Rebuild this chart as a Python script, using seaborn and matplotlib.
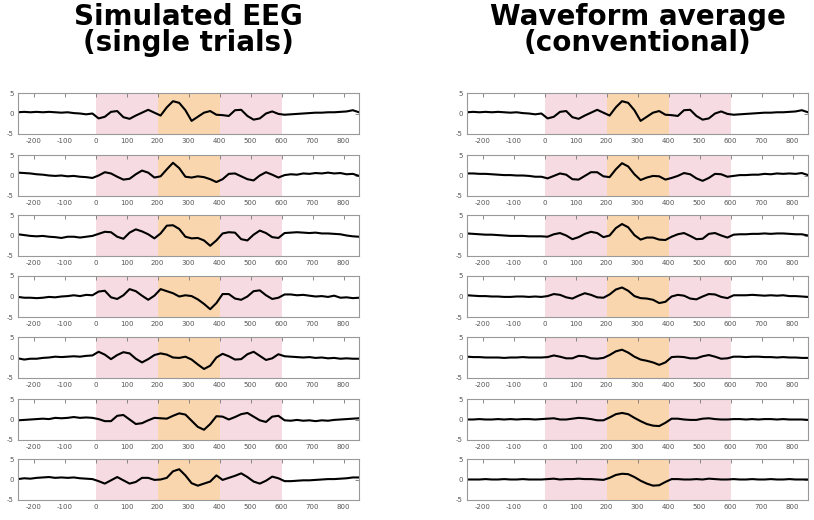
import numpy as np
import pandas as pd
import matplotlib
matplotlib.use("Agg")
import matplotlib.pyplot as plt
import seaborn as sns

# time grid in ms (every 20 ms)
TIME = list(range(-250, 851, 20))

# single trials (left column)
TRIAL_1 = [0.3, 0.4, 0.3, 0.4, 0.3, 0.4, 0.3, 0.2, 0.3, 0.1, 0.0, -0.2, 0.0,
           -1.2, -0.8, 0.4, 0.6, -0.9, -1.3, -0.5, 0.2, 0.9, 0.2,
           -0.5, 1.5, 3.0, 2.6, 0.8, -1.8, -0.8, 0.2, 0.6, -0.3,
           -0.4, -0.6, 0.8, 0.9, -0.6, -1.5, -1.2, 0.0, 0.5, -0.1,
           -0.3, -0.2, -0.1, 0.0, 0.1, 0.2, 0.2, 0.3, 0.3, 0.4, 0.5, 0.8, 0.3]
TRIAL_2 = [0.7, 0.6, 0.5, 0.3, 0.2, 0.0, -0.1, 0.0, -0.2, -0.1, -0.3, -0.4, -0.6,
           0.0, 0.8, 0.5, -0.3, -1.0, -0.8, 0.3, 1.2, 0.7, -0.5,
           -0.2, 1.5, 3.1, 1.8, -0.3, -0.5, -0.2, -0.4, -0.9, -1.6,
           -0.9, 0.4, 0.5, -0.2, -0.9, -1.2, 0.0, 0.8, 0.2, -0.5,
           0.1, 0.3, 0.2, 0.5, 0.4, 0.6, 0.5, 0.7, 0.5, 0.6, 0.3, 0.4, -0.1]
TRIAL_3 = [0.3, 0.1, -0.1, -0.2, -0.1, -0.3, -0.4, -0.6, -0.3, -0.3, -0.5, -0.3, -0.1,
           0.4, 0.9, 0.8, -0.3, -0.8, 0.7, 1.5, 1.0, 0.3, -0.7,
           0.5, 2.4, 2.5, 1.6, -0.3, -0.7, -0.6, -1.2, -2.5, -1.2,
           0.5, 0.8, 0.7, -0.9, -1.2, 0.2, 1.2, 0.6, -0.4, -0.6,
           0.6, 0.7, 0.8, 0.7, 0.6, 0.7, 0.5, 0.5, 0.4, 0.3, 0.0, -0.2, -0.3]
TRIAL_4 = [-0.1, -0.3, -0.3, -0.4, -0.3, -0.1, -0.2, 0.0, 0.1, 0.3, 0.1, 0.4, 0.3,
           1.2, 1.4, -0.2, -0.6, 0.3, 1.8, 1.3, 0.2, -0.8, 0.2,
           1.8, 1.3, 0.8, 0.0, 0.3, 0.1, -0.7, -1.8, -3.1, -1.6,
           0.6, 0.6, -0.5, -0.8, 0.0, 1.3, 1.5, 0.3, -0.6, -0.3,
           0.5, 0.5, 0.3, 0.4, 0.2, 0.0, 0.1, -0.1, 0.2, -0.3, -0.2, -0.4, -0.3]
TRIAL_5 = [-0.2, -0.5, -0.3, -0.3, -0.1, 0.0, 0.2, 0.1, 0.2, 0.3, 0.2, 0.4, 0.5,
           1.4, 0.7, -0.4, 0.6, 1.3, 1.0, -0.3, -1.2, -0.4, 0.6,
           1.0, 0.7, 0.0, -0.1, 0.2, -0.5, -1.7, -2.8, -2.0, 0.0,
           0.9, 0.3, -0.5, -0.4, 0.8, 1.4, 0.4, -0.6, -0.2, 0.8,
           0.3, 0.2, 0.1, 0.0, 0.1, -0.1, 0.0, -0.2, -0.1, -0.3, -0.2, -0.3, -0.3]
TRIAL_6 = [-0.2, -0.1, 0.0, 0.1, 0.2, 0.1, 0.4, 0.3, 0.4, 0.6, 0.4, 0.5, 0.4,
           0.1, -0.4, -0.4, 0.9, 1.1, 0.0, -1.1, -0.9, -0.2, 0.4,
           0.3, 0.2, 0.9, 1.5, 1.2, -0.3, -1.8, -2.5, -1.1, 0.8,
           0.7, 0.0, 0.6, 1.3, 1.6, 0.7, -0.2, -0.6, 0.7, 0.9,
           -0.2, -0.3, -0.1, -0.3, -0.2, -0.4, -0.2, -0.3, -0.1, 0.0, 0.1, 0.2, 0.3]
TRIAL_7 = [0.1, 0.3, 0.2, 0.4, 0.5, 0.6, 0.4, 0.5, 0.4, 0.5, 0.3, 0.2, 0.1,
           -0.4, -1.0, -0.2, 0.6, -0.2, -1.0, -0.6, 0.4, 0.4, -0.1,
           0.0, 0.4, 2.0, 2.5, 1.0, -0.9, -1.5, -1.0, -0.5, 1.0,
           -0.1, 0.4, 0.9, 1.5, 0.6, -0.5, -1.0, -0.3, 0.7, 0.3,
           -0.4, -0.4, -0.3, -0.2, -0.2, -0.1, 0.0, 0.1, 0.1, 0.2, 0.3, 0.5, 0.5]

# conventional waveform averages (right column)
AVG_1 = [0.3, 0.4, 0.3, 0.4, 0.3, 0.4, 0.3, 0.2, 0.3, 0.1, 0.0, -0.2, 0.0,
         -1.2, -0.8, 0.4, 0.6, -0.9, -1.3, -0.5, 0.2, 0.9, 0.2,
         -0.5, 1.5, 3.0, 2.6, 0.8, -1.8, -0.8, 0.2, 0.6, -0.3,
         -0.4, -0.6, 0.8, 0.9, -0.6, -1.5, -1.2, 0.0, 0.5, -0.1,
         -0.3, -0.2, -0.1, 0.0, 0.1, 0.2, 0.2, 0.3, 0.3, 0.4, 0.5, 0.8, 0.3]
AVG_2 = [0.5, 0.5, 0.4, 0.4, 0.3, 0.2, 0.1, 0.1, 0.0, 0.0, -0.1, -0.3, -0.3,
         -0.7, -0.1, 0.5, 0.2, -0.9, -1.0, -0.1, 0.8, 0.8, -0.2,
         -0.4, 1.5, 3.0, 2.2, 0.3, -1.1, -0.5, -0.1, -0.2, -1.0,
         -0.6, -0.1, 0.6, 0.3, -0.7, -1.3, -0.6, 0.4, 0.3, -0.3,
         -0.1, 0.1, 0.1, 0.2, 0.2, 0.4, 0.3, 0.5, 0.4, 0.5, 0.4, 0.6, 0.1]
AVG_3 = [0.5, 0.4, 0.3, 0.2, 0.2, 0.1, 0.0, -0.1, -0.1, -0.1, -0.2, -0.2, -0.2,
         -0.3, 0.3, 0.6, 0.0, -0.9, -0.4, 0.4, 0.9, 0.6, -0.4,
         0.0, 1.8, 2.8, 2.0, 0.1, -1.0, -0.5, -0.5, -1.0, -1.1,
         -0.3, 0.3, 0.6, -0.1, -0.9, -0.8, 0.4, 0.6, 0.0, -0.5,
         0.2, 0.3, 0.3, 0.4, 0.4, 0.5, 0.4, 0.5, 0.5, 0.4, 0.3, 0.3, 0.0]
AVG_4 = [0.3, 0.2, 0.1, 0.1, 0.0, 0.0, -0.1, -0.1, 0.0, 0.0, -0.1, 0.0, -0.1,
         0.1, 0.6, 0.4, -0.2, -0.5, 0.2, 0.8, 0.4, -0.2, -0.3,
         0.5, 1.7, 2.2, 1.4, 0.1, -0.4, -0.5, -0.8, -1.6, -1.3,
         0.0, 0.4, 0.2, -0.5, -0.7, 0.0, 0.6, 0.5, -0.1, -0.4,
         0.3, 0.3, 0.3, 0.4, 0.3, 0.2, 0.3, 0.2, 0.3, 0.1, 0.1, 0.0, -0.1]
AVG_5 = [0.2, 0.1, 0.1, 0.0, 0.0, 0.0, -0.1, 0.0, 0.0, 0.1, 0.0, 0.0, 0.0,
         0.1, 0.5, 0.2, -0.2, -0.2, 0.4, 0.3, -0.2, -0.3, -0.1,
         0.6, 1.5, 1.9, 1.2, 0.2, -0.5, -0.8, -1.2, -1.8, -1.2,
         0.1, 0.2, 0.1, -0.2, -0.2, 0.3, 0.6, 0.2, -0.3, -0.2,
         0.2, 0.2, 0.1, 0.2, 0.2, 0.1, 0.1, 0.0, 0.1, 0.0, 0.0, -0.1, -0.1]
AVG_6 = [0.0, 0.0, 0.1, 0.0, 0.0, 0.1, 0.0, 0.1, 0.0, 0.1, 0.1, 0.0, 0.1,
         0.2, 0.3, 0.0, 0.0, 0.2, 0.4, 0.3, 0.1, -0.2, -0.2,
         0.5, 1.3, 1.6, 1.3, 0.4, -0.4, -1.1, -1.5, -1.6, -0.8,
         0.2, 0.2, 0.0, -0.1, -0.1, 0.2, 0.3, 0.1, 0.0, 0.0,
         0.1, 0.1, 0.0, 0.1, 0.0, 0.1, 0.1, 0.0, 0.1, 0.0, 0.0, 0.0, -0.1]
AVG_7 = [0.0, 0.0, 0.0, 0.1, 0.0, 0.0, 0.1, 0.0, 0.0, 0.1, 0.0, 0.0, 0.0,
         0.1, 0.2, 0.0, 0.1, 0.1, 0.2, 0.1, 0.1, 0.0, -0.1,
         0.4, 1.1, 1.4, 1.3, 0.6, -0.3, -1.0, -1.5, -1.4, -0.6,
         0.1, 0.1, 0.0, 0.0, 0.1, 0.0, 0.2, 0.1, 0.0, 0.0,
         0.1, 0.0, 0.0, 0.1, 0.0, 0.0, 0.1, 0.0, 0.0, 0.1, 0.0, 0.0, 0.0]

TRIALS = [TRIAL_1, TRIAL_2, TRIAL_3, TRIAL_4, TRIAL_5, TRIAL_6, TRIAL_7]
AVERAGES = [AVG_1, AVG_2, AVG_3, AVG_4, AVG_5, AVG_6, AVG_7]

TITLES = [("Simulated EEG", "(single trials)"),
          ("Waveform average", "(conventional)")]
X_TICKS = list(range(-200, 801, 100))
Y_TICKS = [-5, 0, 5]
# shaded windows (ms)
WINDOWS = [(0, 200, "#f6dbe3"), (200, 400, "#f9d6ae"), (400, 600, "#f6dbe3")]

sns.set_style("white")
plt.rcParams["font.family"] = ["DejaVu Sans"]
plt.rcParams["axes.unicode_minus"] = False

W, H = 814, 520
fig = plt.figure(figsize=(W / 100, H / 100), dpi=100)

col_left = [18, 467]
col_width = 341
row_tops = [93, 155, 215, 276, 337, 399, 459]
row_height = 41


def draw_panel(ax, values):
    for x0, x1, c in WINDOWS:
        ax.axvspan(x0, x1, color=c, lw=0, zorder=0)
    df = pd.DataFrame({"time": TIME, "uv": values})
    sns.lineplot(data=df, x="time", y="uv", ax=ax, color="black", lw=1.5)
    ax.set_xlim(-250, 850)
    ax.set_ylim(-5, 5)
    ax.set_xticks(X_TICKS)
    ax.set_yticks(Y_TICKS)
    ax.set_xlabel("")
    ax.set_ylabel("")
    ax.tick_params(direction="in", length=3, width=0.6, colors="#777777",
                   labelcolor="#555555", labelsize=5, top=True, right=True,
                   pad=3)
    for s in ax.spines.values():
        s.set_color("#999999")
        s.set_linewidth(0.8)


for col, series in enumerate([TRIALS, AVERAGES]):
    for row, values in enumerate(series):
        ax = fig.add_axes([col_left[col] / W,
                           1 - (row_tops[row] + row_height) / H,
                           col_width / W, row_height / H])
        draw_panel(ax, values)
    cx = (col_left[col] + col_width / 2) / W
    line1, line2 = TITLES[col]
    fig.text(cx, 1 - 25 / H, line1, ha="center", va="baseline",
             fontsize=20, fontweight="bold", color="black")
    fig.text(cx, 1 - 51 / H, line2, ha="center", va="baseline",
             fontsize=20, fontweight="bold", color="black")

fig.savefig("out.png", dpi=100)
